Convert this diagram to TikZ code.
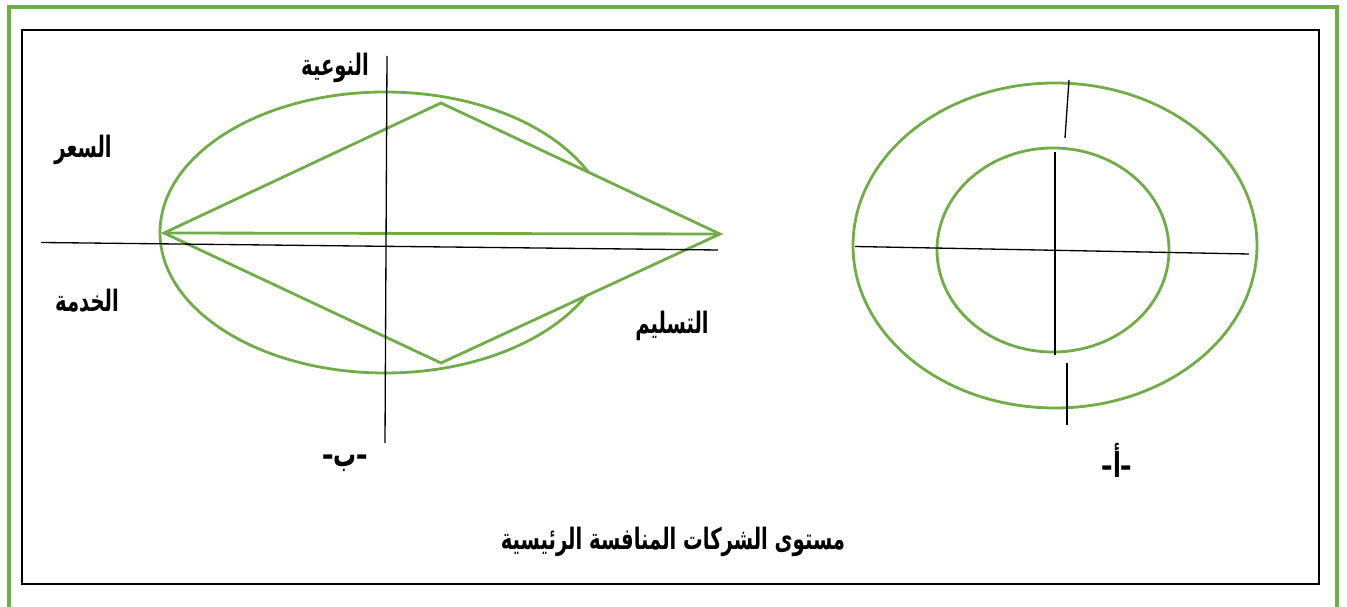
\documentclass[tikz,border=0pt]{standalone}
\usepackage{fontspec}
\usepackage{tikz}
\TeXXeTstate=1
\newfontfamily\arabicfont[Script=Arabic]{DejaVu Sans}
\definecolor{leafgreen}{HTML}{70AD47}
\newcommand{\artext}[1]{\scalebox{0.93}[1.4]{\beginR #1\endR}}
\newcommand{\figdash}{\scalebox{0.6}[1]{–}}

\begin{document}
\begin{tikzpicture}[x=0.02cm,y=-0.02cm,
  every node/.style={font=\arabicfont\bfseries\fontsize{12}{14}\selectfont,inner sep=0pt},
  figlabel/.style={font=\arabicfont\bfseries\fontsize{14}{16}\selectfont},
  greenline/.style={draw=leafgreen,line width=1.6pt},
  axis/.style={draw=black,line width=0.75pt}]
\useasboundingbox (0,0) rectangle (1347,607);
% frames
\draw[leafgreen,line width=1.8pt] (9,607) |- (1337,7) -- (1337,607);
\draw[black,line width=0.8pt] (22,30) rectangle (1319,584);
% left figure
\draw[greenline] (385,232.5) ellipse [x radius=225,y radius=140.5];
\coordinate (dleft) at (164,233);
\coordinate (dtop) at (441,103);
\coordinate (dright) at (720,234);
\coordinate (dbottom) at (441,363);
\filldraw[greenline,fill=white] (dleft) -- (dtop) -- (dright) -- (dbottom) -- cycle;
\draw[greenline] (dleft) -- (dright);
\coordinate (hxl) at (41,242.5);
\coordinate (hxr) at (718,250);
\coordinate (vxt) at (387,56);
\coordinate (vxb) at (385,443);
\draw[axis] (hxl) -- (hxr);
\draw[axis] (vxt) -- (vxb);
\node (quality) at (335,68) {\artext{النوعية}};
\node (price) at (83,150) {\artext{السعر}};
\node (service) at (87,301) {\artext{الخدمة}};
\node (delivery) at (672,326) {\artext{التسليم}};
\node[figlabel] (figb) at (345,463) {\artext{–ب–}};
% right figure
\draw[greenline] (1055,245.5) ellipse [x radius=202,y radius=162.5];
\draw[greenline] (1053,250) ellipse [x radius=116,y radius=102];
\coordinate (rhl) at (855,246.5);
\coordinate (rhr) at (1249,254);
\coordinate (rvt) at (1055,152);
\coordinate (rvb) at (1055,355);
\draw[axis] (rhl) -- (rhr);
\draw[axis] (rvt) -- (rvb);
\coordinate (ttop) at (1069,80);
\coordinate (tbot) at (1065,138);
\draw[axis] (ttop) -- (tbot);
\coordinate (btop) at (1067,363);
\coordinate (bbot) at (1067,425);
\draw[axis] (btop) -- (bbot);
\node[figlabel] (figa) at (1117,460) {\artext{–أ–}};
% caption
\node (caption) at (673,542) {\artext{مستوى الشركات المنافسة الرئيسية}};
\end{tikzpicture}
\end{document}
